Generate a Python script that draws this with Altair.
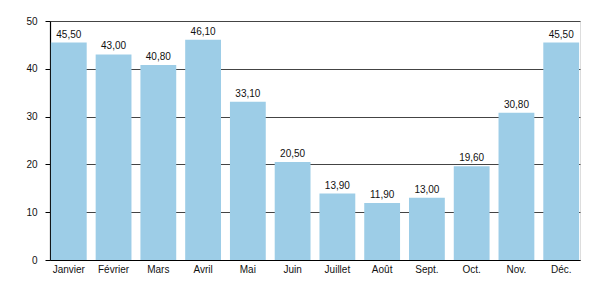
import altair as alt
import pandas as pd

months = ["Janvier", "Février", "Mars", "Avril", "Mai", "Juin", "Juillet", "Août", "Sept.", "Oct.", "Nov.", "Déc."]
values = [45.5, 43.0, 40.8, 46.1, 33.1, 20.5, 13.9, 11.9, 13.0, 19.6, 30.8, 45.5]
y_ticks = [0, 5, 10, 15, 20, 25, 30, 35, 40, 45, 50]

df = pd.DataFrame({"mois": months, "valeur": values})

major = "datum.value % 10 === 0"

x = alt.X("mois:N", sort=months, title=None,
          scale=alt.Scale(paddingInner=0.2, paddingOuter=0.02),
          axis=alt.Axis(labelAngle=0, ticks=False, domainColor="#000", domainWidth=1.2,
                        labelPadding=4, labelFontSize=10, labelColor="#111",
                        labelFont="Liberation Sans"))
y = alt.Y("valeur:Q", title=None, scale=alt.Scale(domain=[0, 50], nice=False),
          axis=alt.Axis(values=y_ticks, domainColor="#000", domainWidth=1.2,
                        gridColor={"condition": {"test": major, "value": "#444444"}, "value": "#c8c8c8"},
                        tickSize={"condition": {"test": major, "value": 5}, "value": 3},
                        tickColor="#000",
                        labelExpr="datum.value % 10 === 0 ? datum.label : ''",
                        labelPadding=8, labelFontSize=10, labelColor="#111",
                        labelFont="Liberation Sans"))

bars = alt.Chart(df).mark_bar(color="#9dcde7").encode(x=x, y=y)
labels = alt.Chart(df).transform_calculate(
    lab="replace(format(datum.valeur, '.2f'), '.', ',')"
).mark_text(dy=-5, baseline="alphabetic", fontSize=10, font="Liberation Sans", color="#111").encode(
    x=alt.X("mois:N", sort=months), y="valeur:Q", text="lab:N")

chart = alt.layer(bars, labels).properties(
    width=530, height=239,
    autosize=alt.AutoSizeParams(type="none"),
    padding={"left": 50, "top": 21, "right": 20, "bottom": 40},
).configure_view(stroke=None).configure(background="white")

chart.save("out.html", embed_options={"renderer": "svg", "actions": False})
